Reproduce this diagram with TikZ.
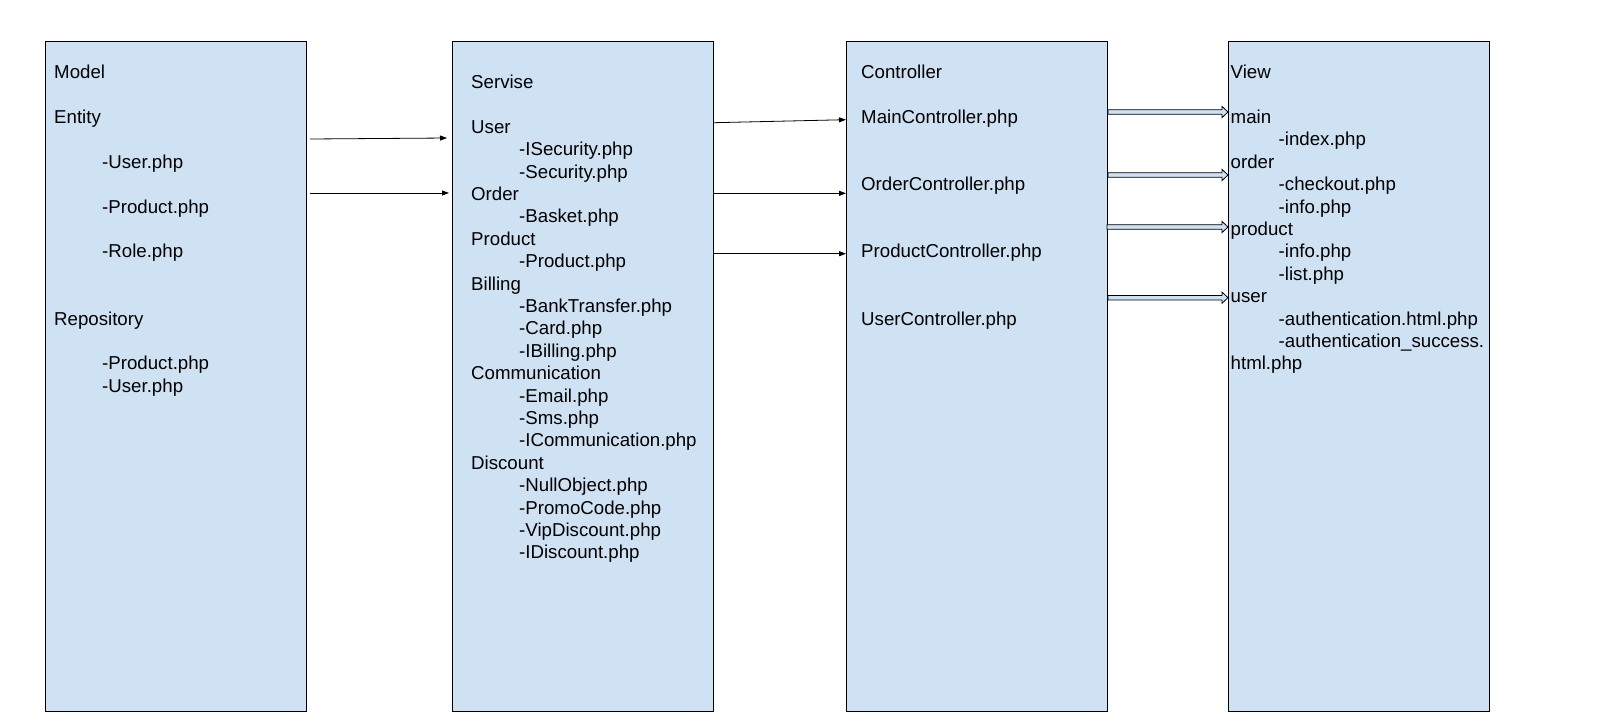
\documentclass[tikz,border=0pt]{standalone}
\usepackage{fontspec}
\setmainfont{Liberation Sans}
\usetikzlibrary{arrows.meta,calc}
\definecolor{boxblue}{HTML}{CFE2F3}
\newcommand{\blkarrow}[2]{%
  \draw[line width=0.8pt, fill=boxblue, line join=miter]
    ($(#1)+(0,-2.3)$) -- ($(#2)+(-6,-2.3)$) -- ($(#2)+(-6,-5.6)$) -- (#2)
    -- ($(#2)+(-6,5.6)$) -- ($(#2)+(-6,2.3)$) -- ($(#1)+(0,2.3)$) -- cycle;}
\begin{document}
\begin{tikzpicture}[x=1pt,y=-1pt,
  col/.style={draw=black, line width=1pt, fill=boxblue, minimum width=261pt,
    minimum height=670pt, anchor=north west, inner sep=0pt},
  txt/.style={anchor=base west, align=left, inner sep=0pt,
    font=\fontsize{18.67}{22.4}\selectfont},
  lnk/.style={line width=0.8pt, -{Triangle[length=7pt,width=5pt]}},
]
\useasboundingbox (0,0) rectangle (1610,726);

% columns
\node[col] (model) at (45,41) {};
\node[col] (servise) at (452,41) {};
\node[col] (controller) at (846,41) {};
\node[col] (view) at (1228,41) {};

% texts (anchor = baseline of the last line)
\node[txt] (modeltxt) at (54,392.3) {Model\\[22.4pt]
Entity\\[22.4pt]
\hspace*{48pt}-User.php\\[22.4pt]
\hspace*{48pt}-Product.php\\[22.4pt]
\hspace*{48pt}-Role.php\\[44.8pt]
Repository\\[22.4pt]
\hspace*{48pt}-Product.php\\
\hspace*{48pt}-User.php};

\node[txt] (servisetxt) at (471,558.8) {Servise\\[22.4pt]
User\\
\hspace*{48pt}-ISecurity.php\\
\hspace*{48pt}-Security.php\\
Order\\
\hspace*{48pt}-Basket.php\\
Product\\
\hspace*{48pt}-Product.php\\
Billing\\
\hspace*{48pt}-BankTransfer.php\\
\hspace*{48pt}-Card.php\\
\hspace*{48pt}-IBilling.php\\
Communication\\
\hspace*{48pt}-Email.php\\
\hspace*{48pt}-Sms.php\\
\hspace*{48pt}-ICommunication.php\\
Discount\\
\hspace*{48pt}-NullObject.php\\
\hspace*{48pt}-PromoCode.php\\
\hspace*{48pt}-VipDiscount.php\\
\hspace*{48pt}-IDiscount.php};

\node[txt] (controllertxt) at (861,325.1) {Controller\\[22.4pt]
MainController.php\\[44.8pt]
OrderController.php\\[44.8pt]
ProductController.php\\[44.8pt]
UserController.php};

\node[txt] (viewtxt) at (1230.5,369.9) {View\\[22.4pt]
main\\
\hspace*{48pt}-index.php\\
order\\
\hspace*{48pt}-checkout.php\\
\hspace*{48pt}-info.php\\
product\\
\hspace*{48pt}-info.php\\
\hspace*{48pt}-list.php\\
user\\
\hspace*{48pt}-authentication.html.php\\
\hspace*{48pt}-authentication\_success.\\
html.php};

% Model -> Servise
\draw[lnk] ([xshift=3pt]model.east |- 0,139) -- ([xshift=-5pt]servise.west |- 0,138);
\draw[lnk] ([xshift=3pt]model.east |- 0,193) -- ([xshift=-3pt]servise.west |- 0,193);

% Servise -> Controller
\draw[lnk] (servise.east |- 0,122.7) -- (controller.west |- 0,119.7);
\draw[lnk] (servise.east |- 0,193.3) -- (controller.west |- 0,193.3);
\draw[lnk] (servise.east |- 0,253.7) -- (controller.west |- 0,253.7);

% Controller -> View
\coordinate (c1) at (controller.east |- 0,112);
\coordinate (v1) at (view.west |- 0,112);
\coordinate (c2) at (controller.east |- 0,175);
\coordinate (v2) at (view.west |- 0,175);
\coordinate (c3) at ([xshift=-1pt]controller.east |- 0,227);
\coordinate (v3) at (view.west |- 0,227);
\coordinate (c4) at (controller.east |- 0,297.7);
\coordinate (v4) at (view.west |- 0,297.7);
\blkarrow{c1}{v1}
\blkarrow{c2}{v2}
\blkarrow{c3}{v3}
\blkarrow{c4}{v4}
\end{tikzpicture}
\end{document}
